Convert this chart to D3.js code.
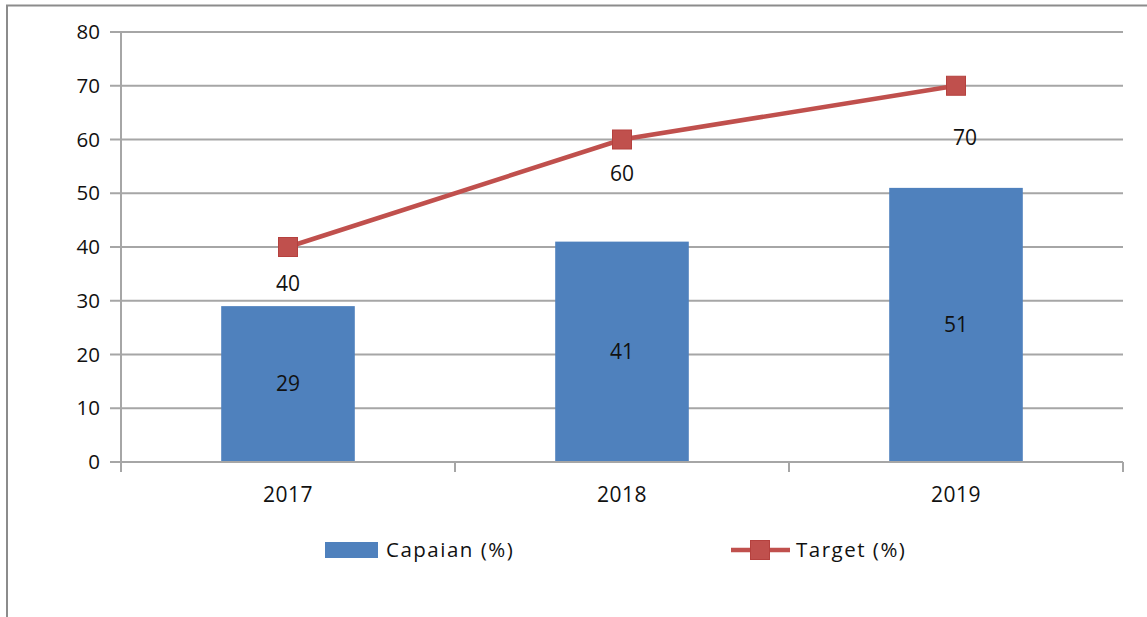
<!DOCTYPE html>
<html>
<head>
<meta charset="utf-8">
<script src="https://cdn.jsdelivr.net/npm/d3@7"></script>
<style>
  html, body { margin: 0; padding: 0; background: #fff; }
  svg { display: block; }
  text { font-family: "Open Sans", "DejaVu Sans", sans-serif; fill: #111; }
</style>
</head>
<body>
<svg id="chart" width="1147" height="617"></svg>
<script>
const categories = ["2017", "2018", "2019"];
const capaian = [29, 41, 51];
const target = [40, 60, 70];
const yTicks = [0, 10, 20, 30, 40, 50, 60, 70, 80];
const seriesNames = ["Capaian (%)", "Target (%)"];

const W = 1147, H = 617;
const m = { left: 121, right: 1123, top: 32, bottom: 462 };
const blue = "#4F81BD", red = "#C0504D", grid = "#A6A6A6";

const svg = d3.select("#chart");

// outer frame (chart is cropped on right/bottom)
svg.append("path")
  .attr("d", `M7,${H} L7,5.5 L${W},5.5`)
  .attr("fill", "none").attr("stroke", "#8c8c8c").attr("stroke-width", 2);

const x = d3.scaleBand().domain(categories).range([m.left, m.right]).paddingInner(0).paddingOuter(0);
const y = d3.scaleLinear().domain([0, 80]).range([m.bottom, m.top]);

// gridlines + y ticks
svg.append("g").selectAll("line").data(yTicks.filter(d => d > 0)).join("line")
  .attr("x1", m.left - 11).attr("x2", m.right)
  .attr("y1", d => y(d)).attr("y2", d => y(d))
  .attr("stroke", grid).attr("stroke-width", 2);

// y axis line
svg.append("line").attr("x1", m.left).attr("x2", m.left)
  .attr("y1", m.top).attr("y2", m.bottom + 6)
  .attr("stroke", grid).attr("stroke-width", 2);

// y labels
svg.append("g").selectAll("text").data(yTicks).join("text")
  .attr("x", 100).attr("y", d => y(d))
  .attr("dy", "0.35em").attr("text-anchor", "end")
  .attr("font-size", 20.5).text(d => d);

// bars
const bw = x.bandwidth() * 0.4;
svg.append("g").selectAll("rect").data(categories).join("rect")
  .attr("x", (d) => x(d) + x.bandwidth() / 2 - bw / 2)
  .attr("width", bw)
  .attr("y", (d, i) => y(capaian[i]))
  .attr("height", (d, i) => y(0) - y(capaian[i]))
  .attr("fill", blue);

// bar labels
svg.append("g").selectAll("text").data(categories).join("text")
  .attr("x", d => x(d) + x.bandwidth() / 2)
  .attr("y", (d, i) => (y(capaian[i]) + y(0)) / 2)
  .attr("dy", "0.35em").attr("text-anchor", "middle")
  .attr("font-size", 21).text((d, i) => capaian[i]);

// x axis line and ticks
svg.append("line").attr("x1", m.left - 11).attr("x2", m.right)
  .attr("y1", y(0)).attr("y2", y(0))
  .attr("stroke", grid).attr("stroke-width", 2);
const bounds = categories.map(d => x(d)).concat([m.right]);
svg.append("g").selectAll("line").data(bounds).join("line")
  .attr("x1", d => d).attr("x2", d => d)
  .attr("y1", y(0)).attr("y2", y(0) + 10)
  .attr("stroke", grid).attr("stroke-width", 2);

// x labels
svg.append("g").selectAll("text").data(categories).join("text")
  .attr("x", d => x(d) + x.bandwidth() / 2)
  .attr("y", 495).attr("dy", "0.35em").attr("text-anchor", "middle")
  .attr("font-size", 21).attr("letter-spacing", 0.5).text(d => d);

// target line
const cx = d => x(d) + x.bandwidth() / 2;
const line = d3.line().x((d, i) => cx(categories[i])).y(d => y(d));
svg.append("path").datum(target).attr("d", line)
  .attr("fill", "none").attr("stroke", red).attr("stroke-width", 4.5);
const ms = 19;
svg.append("g").selectAll("rect").data(target).join("rect")
  .attr("x", (d, i) => cx(categories[i]) - ms / 2)
  .attr("y", d => y(d) - ms / 2)
  .attr("width", ms).attr("height", ms)
  .attr("fill", red).attr("stroke", "#B5413E").attr("stroke-width", 1);

// target labels (Excel-like placement below markers)
const labelOffset = [{ dx: 0, dy: 37 }, { dx: 0, dy: 34 }, { dx: 9, dy: 52 }];
svg.append("g").selectAll("text").data(target).join("text")
  .attr("x", (d, i) => cx(categories[i]) + labelOffset[i].dx)
  .attr("y", (d, i) => y(d) + labelOffset[i].dy)
  .attr("dy", "0.35em").attr("text-anchor", "middle")
  .attr("font-size", 21).text(d => d);

// legend
const lg = svg.append("g");
lg.append("rect").attr("x", 325).attr("y", 542).attr("width", 53).attr("height", 16).attr("fill", blue);
lg.append("text").attr("x", 386).attr("y", 550).attr("dy", "0.35em")
  .attr("font-size", 20.5).attr("letter-spacing", 1.5).text(seriesNames[0]);
lg.append("line").attr("x1", 731).attr("x2", 790).attr("y1", 550).attr("y2", 550)
  .attr("stroke", red).attr("stroke-width", 4.5);
lg.append("rect").attr("x", 760 - ms / 2).attr("y", 550 - ms / 2).attr("width", ms).attr("height", ms)
  .attr("fill", red).attr("stroke", "#B5413E").attr("stroke-width", 1);
lg.append("text").attr("x", 796).attr("y", 550).attr("dy", "0.35em")
  .attr("font-size", 20.5).attr("letter-spacing", 1.5).text(seriesNames[1]);
</script>
</body>
</html>
